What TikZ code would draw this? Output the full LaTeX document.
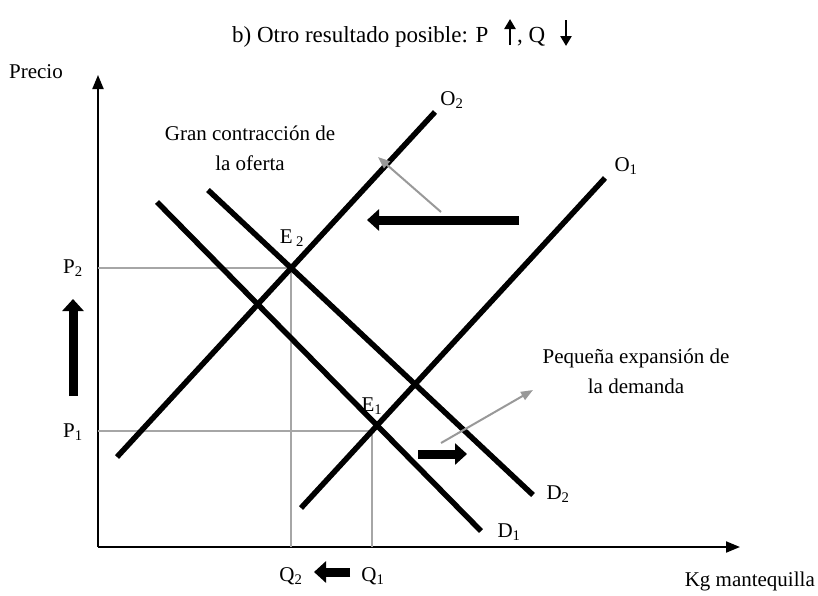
\documentclass[tikz,border=0pt]{standalone}
\usepackage{fontspec}
\setmainfont{Liberation Serif}
\usetikzlibrary{arrows.meta}
\begin{document}
\begin{tikzpicture}[x=1pt,y=-1pt,
  lbl/.style={font=\fontsize{21}{30}\selectfont, inner sep=0pt},
  titlelbl/.style={font=\fontsize{23}{30}\selectfont, inner sep=0pt},
  curve/.style={line width=5.5pt},
  axis/.style={line width=2pt,-{Triangle[length=14pt,width=11pt]}},
  guide/.style={draw=black!35, line width=1.5pt},
  pointer/.style={draw=black!40, line width=2pt, -{Triangle[length=12pt,width=9pt]}},
  shiftarrow/.style={line width=9pt, -{Triangle[length=12pt,width=21pt]}},
  titlearrow/.style={line width=2.5pt, -{Triangle[length=10pt,width=11pt]}}]
\useasboundingbox (0,0) rectangle (818,595);

% title
\node[titlelbl, anchor=base west] (title) at (232,42) {b) Otro resultado posible: P};
\coordinate (pb) at (510,45);
\coordinate (pt) at (510,19);
\draw[titlearrow] (pb) -- (pt);
\node[titlelbl, anchor=base west] (tq) at (517,42) {, Q};
\coordinate (qt) at (566,20);
\coordinate (qb) at (566,46);
\draw[titlearrow] (qt) -- (qb);

% axes
\coordinate (O) at (98,547);
\coordinate (ytop) at (98,75);
\coordinate (xend) at (740,547);
\draw[axis] (O) -- (ytop);
\draw[axis] (O) -- (xend);
\node[lbl] (precio) at (36,72) {Precio};
\node[lbl, anchor=east] (kg) at (815,581) {Kg mantequilla};

% equilibria and guides
\coordinate (E2) at (291,268);
\coordinate (E1) at (372,431);
\coordinate (P2a) at (98,268);
\coordinate (P1a) at (98,431);
\coordinate (Q2a) at (291,547);
\coordinate (Q1a) at (372,547);
\draw[guide] (P2a) -- (E2) -- (Q2a);
\draw[guide] (P1a) -- (E1) -- (Q1a);

% curves
\coordinate (O2s) at (117,457);
\coordinate (O2e) at (435,112);
\coordinate (O1s) at (301,508);
\coordinate (O1e) at (605,178);
\coordinate (D2s) at (208,190);
\coordinate (D2e) at (533,495);
\coordinate (D1s) at (157,202);
\coordinate (D1e) at (481,531);
\draw[curve] (O2s) -- (O2e);
\draw[curve] (O1s) -- (O1e);
\draw[curve] (D2s) -- (D2e);
\draw[curve] (D1s) -- (D1e);

% curve labels
\node[lbl] (lO2) at (452,100) {O\textsubscript{2}};
\node[lbl] (lO1) at (626,166) {O\textsubscript{1}};
\node[lbl] (lD2) at (558,494) {D\textsubscript{2}};
\node[lbl] (lD1) at (509,532) {D\textsubscript{1}};
\node[lbl] (lE2) at (292,238) {E\,\textsubscript{2}};
\node[lbl] (lE1) at (372,406) {E\textsubscript{1}};
\node[lbl] (lP2) at (73,268) {P\textsubscript{2}};
\node[lbl] (lP1) at (73,432) {P\textsubscript{1}};
\node[lbl] (lQ2) at (291,576) {Q\textsubscript{2}};
\node[lbl] (lQ1) at (373,576) {Q\textsubscript{1}};

% annotations
\node[lbl, align=center] (gran) at (250,148) {Gran contracción de\\la oferta};
\node[lbl, align=center] (peq) at (636,371) {Pequeña expansión de\\la demanda};
\coordinate (g1) at (441,212);
\coordinate (g2) at (378,157);
\draw[pointer] (g1) -- (g2);
\coordinate (h1) at (441,443);
\coordinate (h2) at (533,390);
\draw[pointer] (h1) -- (h2);

% shift arrows
\coordinate (s1a) at (519,220);
\coordinate (s1b) at (367,220);
\draw[shiftarrow] (s1a) -- (s1b);
\coordinate (s2a) at (418,454);
\coordinate (s2b) at (467,454);
\draw[shiftarrow] (s2a) -- (s2b);
\coordinate (s3a) at (350,572);
\coordinate (s3b) at (314,572);
\draw[shiftarrow] (s3a) -- (s3b);
\coordinate (s4a) at (73,396);
\coordinate (s4b) at (73,299);
\draw[shiftarrow] (s4a) -- (s4b);
\end{tikzpicture}
\end{document}
